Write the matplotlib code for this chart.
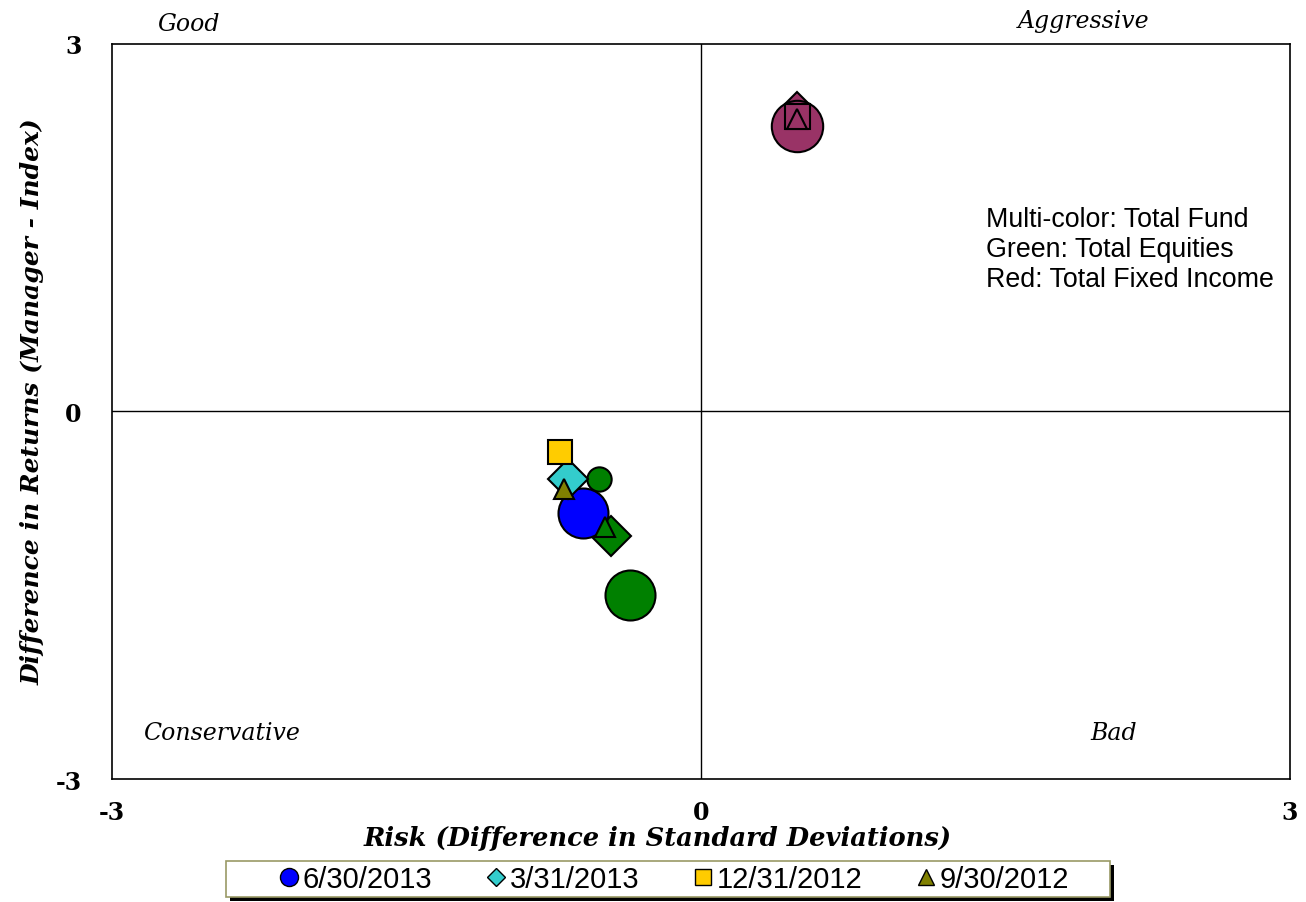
import matplotlib
matplotlib.use('Agg')
import matplotlib.pyplot as plt
from matplotlib.lines import Line2D
from matplotlib.patches import Rectangle

# data
dates = ["6/30/2013", "3/31/2013", "12/31/2012", "9/30/2012"]
date_markers = ["o", "D", "s", "^"]
date_colors = ["#0000FF", "#33CCCC", "#FFCC00", "#808000"]

fund_x = [-0.60, -0.68, -0.72, -0.70]
fund_y = [-0.83, -0.55, -0.33, -0.63]

equity_x = [-0.36, -0.46, -0.52, -0.49]
equity_y = [-1.50, -1.02, -0.55, -0.94]
equity_markers = ["o", "D", "o", "^"]

fixed_x = [0.49, 0.49, 0.49, 0.49]
fixed_y = [2.33, 2.44, 2.41, 2.39]

serif = ["DejaVu Serif"]
sans = ["Liberation Sans", "DejaVu Sans"]

W, H = 1306, 903
fig = plt.figure(figsize=(W / 100, H / 100), dpi=100)
ax = fig.add_axes([0.0858, 0.1362, 0.9019, 0.814])
ax.set_xlim(-3, 3)
ax.set_ylim(-3, 3)

ax.axhline(0, color='black', lw=1, zorder=1)
ax.axvline(0, color='black', lw=1, zorder=1)

mk = dict(mec='black', mew=1.5, ls='none')

# total fixed income
ax.plot(fixed_x[0], fixed_y[0], marker='o', ms=37, color='#993366', zorder=3, **mk)
ax.plot(fixed_x[1], fixed_y[1], marker='D', ms=21, color='#993366', zorder=2, **mk)
ax.plot(fixed_x[2], fixed_y[2], marker='s', ms=18, color='#993366', zorder=4, **mk)
ax.plot(fixed_x[3], fixed_y[3], marker='^', ms=14, color='#993366', zorder=5, **mk)

# total equities
eq_sizes = [36, 20, 17.5, 15]
eq_z = [4, 3, 4, 12]
for i in range(4):
    ax.plot(equity_x[i], equity_y[i], marker=equity_markers[i], ms=eq_sizes[i],
            color='#008000', zorder=eq_z[i], **mk)

# total fund
fund_sizes = [36, 20, 17.5, 15]
fund_z = [5, 6, 7, 8]
for i in range(4):
    ax.plot(fund_x[i], fund_y[i], marker=date_markers[i], ms=fund_sizes[i],
            color=date_colors[i], zorder=fund_z[i], **mk)

for s in ax.spines.values():
    s.set_linewidth(1.2)

ax.set_xticks([-3, 0, 3])
ax.set_yticks([-3, 0, 3])
ax.set_xticklabels(["-3", "0", "3"], fontfamily=serif, fontweight='bold', fontsize=17)
ax.set_yticklabels(["-3", "0", "3"], fontfamily=serif, fontweight='bold', fontsize=17)
ax.tick_params(length=0)
ax.tick_params(axis='y', pad=22)
ax.tick_params(axis='x', pad=15)

ax.set_xlabel("Risk (Difference in Standard Deviations)", fontfamily=serif,
              fontweight='bold', fontstyle='italic', fontsize=18.5)
ax.set_ylabel("Difference in Returns (Manager - Index)", fontfamily=serif,
              fontweight='bold', fontstyle='italic', fontsize=18)
ax.xaxis.set_label_coords(0.4635, -0.062)
ax.yaxis.set_label_coords(-0.057, 0.515)

# quadrant labels
qfont = dict(fontfamily=serif, fontstyle='italic', fontsize=17, ha='center', va='center')
ax.text(-2.61, 3.17, "Good", **qfont)
ax.text(1.95, 3.19, "Aggressive", **qfont)
ax.text(-2.44, -2.62, "Conservative", **qfont)
ax.text(2.10, -2.62, "Bad", **qfont)

ax.text((986 - 701) / 196.3, 1.33,
        "Multi-color: Total Fund\nGreen: Total Equities\nRed: Total Fixed Income",
        fontfamily=sans, fontsize=19.3, ha='left', va='center', linespacing=1.2)

# legend box with drop shadow
fig.patches.append(Rectangle((230 / W, 1 - 902 / H), 884 / W, 36 / H, transform=fig.transFigure,
                             facecolor='black', edgecolor='none', zorder=1))
fig.patches.append(Rectangle((226 / W, 1 - 898 / H), 884 / W, 36 / H, transform=fig.transFigure,
                             facecolor='white', edgecolor='#999966', lw=1.2, zorder=2))

handles = [Line2D([], [], marker=m, color=c, mec='black', mew=1, ls='none', ms=ms)
           for m, c, ms in zip(date_markers, date_colors, [13, 9, 12, 11])]
leg = fig.legend(handles, dates, loc='center', bbox_to_anchor=(0.515, 1 - 880 / H), ncol=4,
                 prop={'family': sans, 'size': 21}, frameon=False,
                 handletextpad=0.0, columnspacing=1.75,
                 borderpad=0.1, handlelength=0.9, borderaxespad=0)
leg.set_zorder(3)

fig.savefig("out.png", dpi=100)
